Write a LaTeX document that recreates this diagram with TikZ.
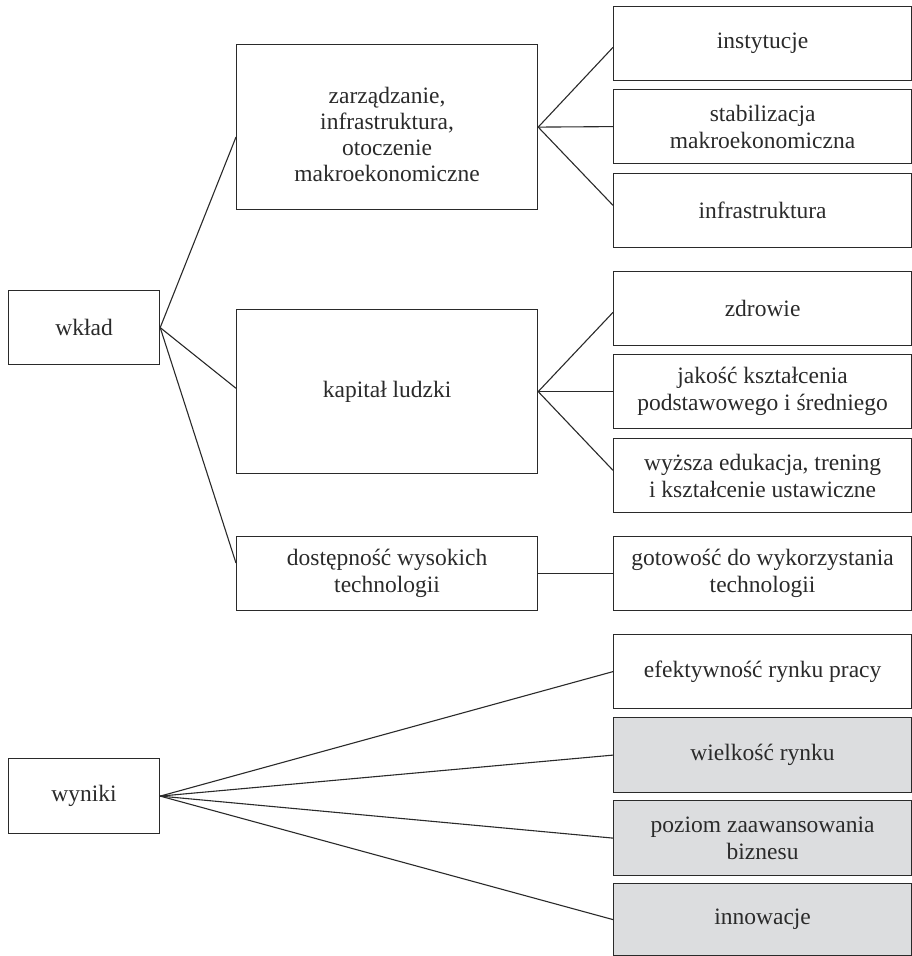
\documentclass[tikz,border=0pt]{standalone}
\usepackage{fontspec}
\setmainfont{Liberation Serif}
\usetikzlibrary{calc}
\definecolor{inkc}{HTML}{2A2A2A}
\definecolor{shade}{HTML}{DCDDDF}
\tikzset{
  x=1pt, y=1pt,
  box/.style={draw=inkc, line width=1.2pt, anchor=north west, inner sep=0pt,
    align=center, text=inkc, font=\fontsize{23.5}{27}\selectfont},
  greybox/.style={box, fill=shade},
  label text/.style={inner sep=0pt, align=center, text=inkc,
    font=\fontsize{23.5}{26}\selectfont},
  link/.style={draw=inkc, line width=1.1pt},
}
% \boxat{style}{name}{x1}{y1}{x2}{y2}{text}, y measured downwards
\newcommand{\boxat}[7]{%
  \pgfmathsetmacro{\bw}{#5-#3}\pgfmathsetmacro{\bh}{#6-#4}%
  \node[#1, minimum width=\bw pt, minimum height=\bh pt] (#2) at (#3,-#4) {#7};}
\begin{document}
\begin{tikzpicture}
\useasboundingbox (0,0) rectangle (912,-956);
% left column
\boxat{box}{wklad}{8}{290}{159}{364}{wkład}
\boxat{box}{wyniki}{8}{758}{159}{833}{wyniki}
% middle column
\boxat{box}{zarz}{236}{44}{537}{209}{}
\node[label text] (zarztext) at ([yshift=-7pt]zarz.center)
  {zarządzanie,\\infrastruktura,\\otoczenie\\makroekonomiczne};
\boxat{box}{kap}{236}{309}{537}{473}{kapitał ludzki}
\boxat{box}{dost}{236}{536}{537}{610}{dostępność wysokich\\technologii}
% right column
\boxat{box}{inst}{613}{6}{911}{80}{instytucje}
\boxat{box}{stab}{613}{89}{911}{163}{stabilizacja\\makroekonomiczna}
\boxat{box}{infra}{613}{173}{911}{247}{infrastruktura}
\boxat{box}{zdr}{613}{271}{911}{345}{zdrowie}
\boxat{box}{jak}{613}{354}{911}{428}{jakość kształcenia\\podstawowego i średniego}
\boxat{box}{wyz}{613}{438}{911}{512}{wyższa edukacja, trening\\i kształcenie ustawiczne}
\boxat{box}{got}{613}{536}{911}{610}{gotowość do wykorzystania\\technologii}
\boxat{box}{efe}{613}{634}{911}{708}{efektywność rynku pracy}
\boxat{greybox}{wiel}{613}{717}{911}{792}{wielkość rynku}
\boxat{greybox}{poz}{613}{800}{911}{875}{poziom zaawansowania\\biznesu}
\boxat{greybox}{inn}{613}{883}{911}{955}{innowacje}
% connectors
\draw[link] (wklad.east) -- ($(zarz.north west)!0.56!(zarz.south west)$);
\draw[link] (wklad.east) -- ($(kap.north west)!0.48!(kap.south west)$);
\draw[link] (wklad.east) -- ($(dost.north west)!0.36!(dost.south west)$);
\draw[link] (zarz.east) -- ($(inst.north west)!0.55!(inst.south west)$);
\draw[link] (zarz.east) -- (stab.west);
\draw[link] (zarz.east) -- ($(infra.north west)!0.43!(infra.south west)$);
\draw[link] (kap.east) -- ($(zdr.north west)!0.55!(zdr.south west)$);
\draw[link] (kap.east) -- (jak.west);
\draw[link] (kap.east) -- ($(wyz.north west)!0.43!(wyz.south west)$);
\draw[link] (dost.east) -- (got.west);
\draw[link] (wyniki.east) -- (efe.west);
\draw[link] (wyniki.east) -- (wiel.west);
\draw[link] (wyniki.east) -- (poz.west);
\draw[link] (wyniki.east) -- (inn.west);
\end{tikzpicture}
\end{document}
